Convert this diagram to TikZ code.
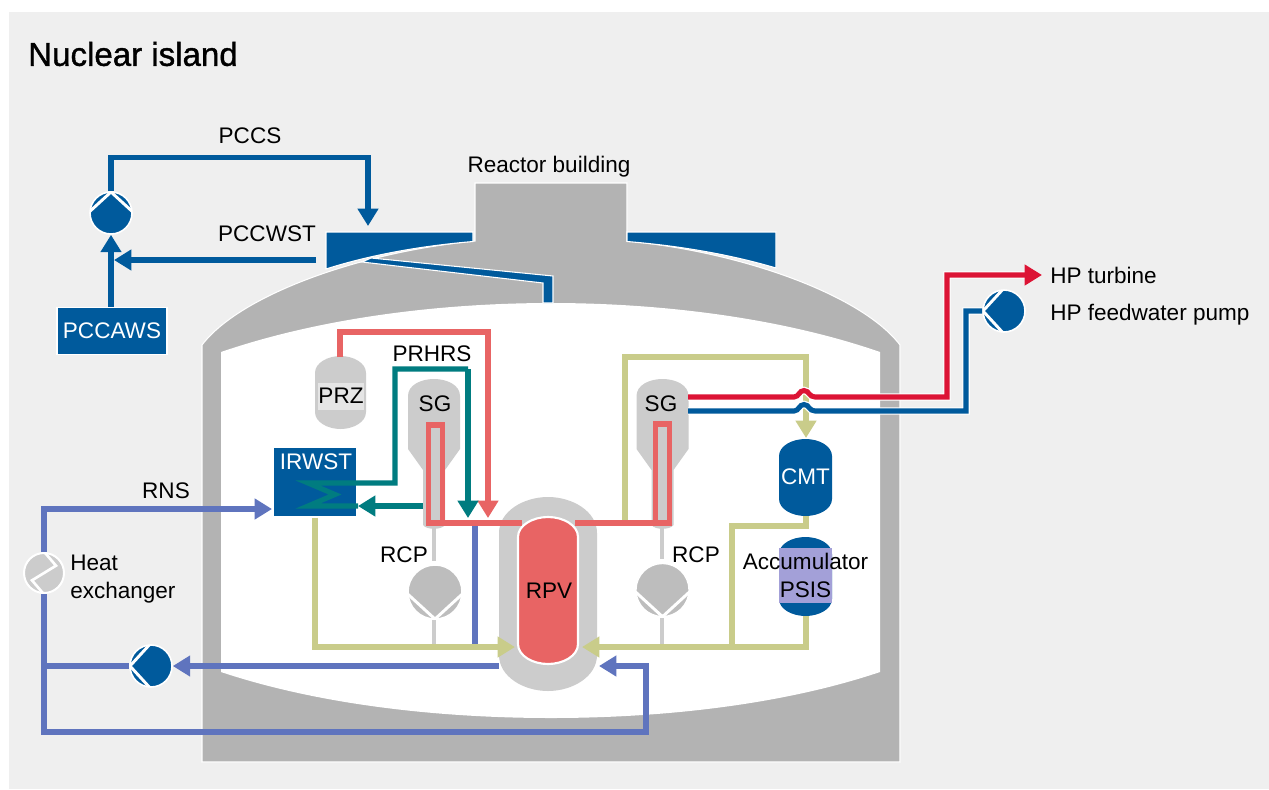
\documentclass[tikz,border=0pt]{standalone}
\usepackage{fontspec}
\setmainfont{Liberation Sans}
\newfontfamily\titlefont[FakeBold=1.2]{Liberation Sans}
\usepackage{xcolor}
\usetikzlibrary{arrows.meta,calc}
\definecolor{panel}{HTML}{EFEFEF}
\definecolor{wall}{HTML}{B3B3B3}
\definecolor{shell}{HTML}{CCCCCC}
\definecolor{rcpgrey}{HTML}{BDBDBD}
\definecolor{navy}{HTML}{005A9C}
\definecolor{violet}{HTML}{5F74BE}
\definecolor{olive}{HTML}{C9CC8A}
\definecolor{salmon}{HTML}{E86464}
\definecolor{teal}{HTML}{007C80}
\definecolor{steam}{HTML}{DC1435}
\definecolor{lav}{HTML}{A3A0D8}
\newcommand{\px}{0.75pt}
\newcommand{\drum}[6][]{%
  \fill[#1] ({#2-#4},{#3-#5+#6}) .. controls ({#2-#4},{#3-#5+0.4*#6}) and ({#2-0.5*#4},{#3-#5}) .. (#2,{#3-#5})
    .. controls ({#2+0.5*#4},{#3-#5}) and ({#2+#4},{#3-#5+0.4*#6}) .. ({#2+#4},{#3-#5+#6})
    -- ({#2+#4},{#3+#5-#6}) .. controls ({#2+#4},{#3+#5-0.4*#6}) and ({#2+0.5*#4},{#3+#5}) .. (#2,{#3+#5})
    .. controls ({#2-0.5*#4},{#3+#5}) and ({#2-#4},{#3+#5-0.4*#6}) .. ({#2-#4},{#3+#5-#6}) -- cycle;}
\newcommand{\steamgen}[1]{%
  \fill[shell] ({#1-26},396) .. controls ({#1-26},385) and ({#1-13},379) .. (#1,379)
    .. controls ({#1+13},379) and ({#1+26},385) .. ({#1+26},396) -- ({#1+26},449) -- ({#1+11},470) -- ({#1+11},525)
    .. controls ({#1+8},530) and ({#1-8},530) .. ({#1-11},525) -- ({#1-11},470) -- ({#1-26},449) -- cycle;}
\tikzset{
  >={Triangle[length=13pt,width=15pt]},
  lineB/.style={line width=4pt, draw=navy},
  lineV/.style={line width=3.8pt, draw=violet},
  lineO/.style={line width=3.8pt, draw=olive},
  lineP/.style={line width=4pt, draw=salmon},
  lineT/.style={line width=3.8pt, draw=teal},
  lineS/.style={line width=3.8pt, draw=#1, preaction={draw=white, line width=5.6pt}},
  lab/.style={text=black, font=\fontsize{16.9}{19}\selectfont, inner sep=0pt, align=center},
  labw/.style={lab, text=white},
  box/.style={rectangle, fill=navy, draw=white, line width=0.8pt, inner sep=0pt},
  pump/.style n args={3}{circle, fill=#1, draw=white, line width=1.2pt, inner sep=0pt, minimum size=2*#3,
    path picture={\draw[white, line width=2.2pt]
      ($(path picture bounding box.center)+(#2+85:#3)$) -- ($(path picture bounding box.center)+(#2:#3)$)
      -- ($(path picture bounding box.center)+(#2-85:#3)$);}},
  exchanger/.style={circle, fill=shell, draw=white, line width=1.5pt, inner sep=0pt, minimum size=30pt,
    path picture={\draw[white, line width=2pt, shift={(path picture bounding box.center)}]
      (0pt,16pt) -- (9pt,5.5pt) -- (-9pt,-5.5pt) -- (0pt,-16pt);}}
}
\begin{document}
\begin{tikzpicture}[x=0.75pt,y=-0.75pt]
  \useasboundingbox (0,0) rectangle (1269,789);
  \fill[white] (0,0) rectangle (1269,789);
  \fill[panel] (9,12) rectangle (1269,789);
  \node (title) [anchor=west, inner sep=0pt, font=\titlefont\fontsize{24.8}{28}\selectfont] at (28,54) {Nuclear island};

  % building and the water tank on its roof
  \fill[wall, draw=white, line width=0.8pt] (202,762) -- (202,345) .. controls (240,295) and (360,252) .. (475,241)
    -- (475,183) -- (627,183) -- (627,241) .. controls (742,252) and (862,295) .. (900,345) -- (900,762) -- cycle;
  \fill[white] (221,352) .. controls (320,318) and (440,303) .. (551,303) .. controls (662,303) and (782,318) .. (880,352)
    -- (880,672) .. controls (782,705) and (662,718) .. (551,718) .. controls (440,718) and (320,705) .. (221,672) -- cycle;
  \fill[navy, draw=white, line width=0.8pt] (326,232) -- (473,232) -- (473,241.5) .. controls (420,246) and (370,255) .. (326,269) -- cycle;
  \fill[navy, draw=white, line width=0.8pt] (627,232) -- (776,232) -- (776,268) .. controls (732,255) and (682,246) .. (627,241.5) -- cycle;
  \fill[navy, draw=white, line width=0.8pt] (371,258) -- (553,276) -- (553,303) -- (543,303) -- (543,283) -- (362,262) -- cycle;

  \node (bldg) [lab] at (549,167) {Reactor building};
  \node (pccs) [lab] at (250,136) {PCCS};
  \node (pccwst) [lab] at (267,234) {PCCWST};
  \node (prhrs) [lab] at (432,354) {PRHRS};
  \node (rns) [lab] at (166,491) {RNS};
  \node (rcpL) [lab] at (404,555) {RCP};
  \node (rcpR) [lab] at (696,555) {RCP};
  \node (hxlab) [lab, anchor=west, align=left] at (70,579) {Heat\\[1.5pt]exchanger};
  \node (hpt) [lab, anchor=west] at (1050,275) {HP turbine};
  \node (hpf) [lab, anchor=west] at (1050,315) {HP feedwater pump};

  % named ends of the pipes
  \coordinate (tankIn) at (368,226);
  \coordinate (tankOut) at (316,260);
  \coordinate (teeP) at (111,260);
  \coordinate (irwstIn) at (272,509);
  \coordinate (rnsTee) at (44,666);
  \coordinate (rpvOut) at (499,666);
  \coordinate (rpvRns) at (599,666);
  \coordinate (rpvOL) at (515,647);
  \coordinate (rpvOR) at (582,647);
  \coordinate (sgRa) at (688,397);
  \coordinate (sgRb) at (688,411);
  \coordinate (turb) at (1042,275);
  \coordinate (hotL) at (488,518);
  \coordinate (coilIn) at (468,518);
  \coordinate (sgTeal) at (423,506);
  \coordinate (coilA) at (357,483);
  \coordinate (coilB) at (358,506);

  \node (pccaws) [box, minimum width=110*\px, minimum height=47*\px, text=white, font=\fontsize{16.9}{19}\selectfont] at (112,331) {PCCAWS};
  \node (pumpP) [pump={navy}{90}{15.75pt}] at (111,213) {};
  \node (pumpR) [pump={navy}{180}{15.75pt}] at (151,666) {};
  \node (pumpF) [pump={navy}{180}{15.75pt}] at (1004,311) {};
  \node (hx) [exchanger] at (44,573) {};

  \draw[lineB,->] (pumpP.north) -- ++(0,-34) -| (tankIn);
  \draw[lineB,->] (tankOut) -- (114,260);
  \draw[lineB,->] (pccaws.north -| teeP) -- (pumpP.south);

  % vessels
  \steamgen{434}
  \steamgen{662.5}
  \draw[shell, line width=3.4pt] (434,528) -- (434,561);
  \draw[shell, line width=3.4pt] (662,528) -- (662,559);
  \draw[shell, line width=3.4pt] (434,620) -- (434,646);
  \draw[shell, line width=3.4pt] (662,618) -- (662,646);
  \drum[shell]{340.5}{392.5}{25.5}{36.5}{17}
  \fill[black!10] (318,383) rectangle (364,410);
  \drum[shell]{548}{594}{49}{97}{36}
  \node (prz) [lab] at (341,396) {PRZ};
  \node (sgL) [lab] at (435,404) {SG};
  \node (sgR) [lab] at (661,404) {SG};
  \node (pcpL) [pump={rcpgrey}{-90}{20.3pt}] at (435,592) {};
  \node (pcpR) [pump={rcpgrey}{-90}{20pt}] at (662.5,590) {};

  \node (irwst) [box, minimum width=84*\px, minimum height=70*\px] at (315,482) {};
  \node (irwstlab) [labw] at (316,462) {IRWST};

  % primary loop
  \draw[lineV] (475,526) -- (475,646);
  \draw[lineP] (428.5,523) -- (428.5,425) -- (442.5,425) -- (442.5,523);
  \draw[lineP] (655.5,523) -- (655.5,424) -- (669.5,424) -- (669.5,523);
  \draw[lineO] (625,523) -- (625,357) -| (806,420);
  \draw[lineP] (426,523) -- (522,523);
  \draw[lineP] (575,523) -- (672,523);
  \draw[lineP,->] (340,357) -- (340,332) -| (hotL);

  \drum[salmon, draw=white, line width=1.6pt]{548}{590.5}{30}{73.5}{20}
  \node (rpv) [lab] at (549,591) {RPV};

  % passive heat removal
  \draw[lineT,->] (468,369) -- (coilIn);
  \draw[lineT] (468,369) -- (395,369) -- (395,483) -- (coilA) -- (308,483) -- (335,494.5) -- (308,506) -- (coilB);
  \draw[lineT,->] (sgTeal) -- (coilB);

  % safety injection
  \drum[navy]{805.5}{477.5}{26.5}{38.5}{17}
  \node (cmt) [labw] at (805.5,477) {CMT};
  \drum[navy]{805.5}{576.5}{26.5}{39.5}{17}
  \fill[lav] (779,548) rectangle (832,603);
  \node (acc) [lab] at (805.5,575) {Accumulator\\[2pt]PSIS};
  \draw[lineO,->] (806,416) -- (806,438);
  \draw[lineO] (806,516) -- (806,526) -| (732,647);
  \draw[lineO,->] (806,616) -- (806,647) -- (rpvOR);
  \draw[lineO,->] (irwst.south) -- (315,647) -- (rpvOL);

  % secondary side, hopping over the makeup line
  \draw[lineS=steam,->] (sgRa) -- (794,397) .. controls (799,397) and (799,390.5) .. (804,390.5)
    .. controls (809,390.5) and (809,397) .. (815,397) -- (947,397) |- (turb);
  \draw[lineS=navy] (sgRb) -- (794,411) .. controls (799,411) and (799,404.5) .. (804,404.5)
    .. controls (809,404.5) and (809,411) .. (815,411) -- (966,411) |- (pumpF.west);

  % residual heat removal
  \draw[lineV,->] (hx.north) |- (irwstIn);
  \draw[lineV,->] (hx.south) |- (646,732) |- (rpvRns);
  \draw[lineV] (rnsTee) -- (pumpR.west);
  \draw[lineV,->] (rpvOut) -- (pumpR.east);
\end{tikzpicture}
\end{document}
